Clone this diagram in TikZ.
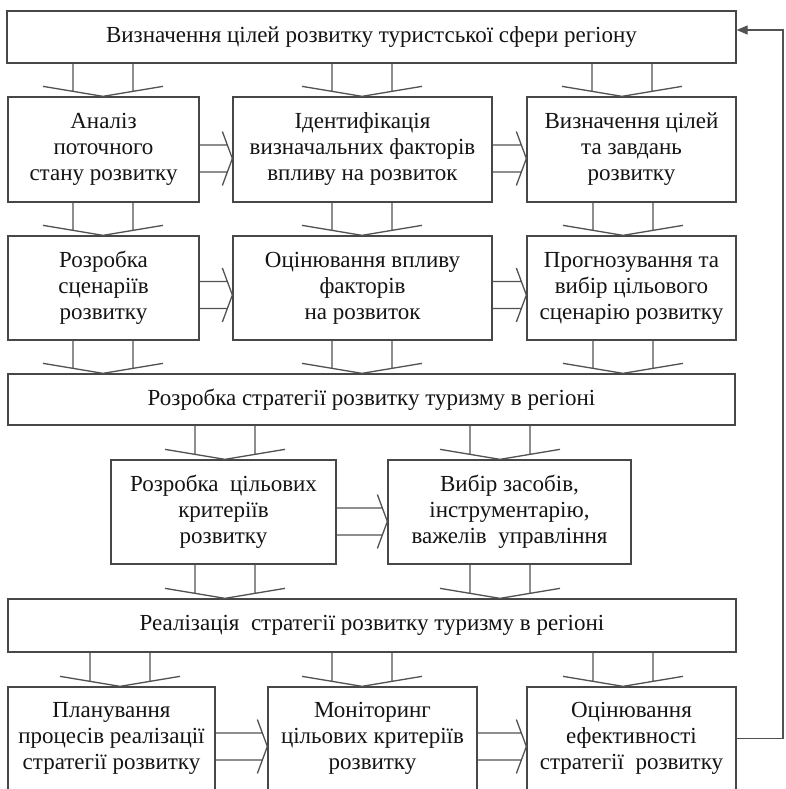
\documentclass[tikz,border=0pt]{standalone}
\usepackage{fontspec}
\setmainfont{Liberation Serif}
\usetikzlibrary{calc,arrows.meta}
\newcommand\varr[3]{%
  \draw[blk] let \p1=(#1.south), \p2=(#2.north) in
    (#3pt-30pt,\y1) -- (#3pt-30pt,\y2+5pt)
    (#3pt+30pt,\y1) -- (#3pt+30pt,\y2+5pt)
    (#3pt-60pt,\y2+10pt) -- (#3pt,\y2) -- (#3pt+60pt,\y2+10pt);}
\newcommand\harr[3]{%
  \draw[blk] let \p1=(#1.east), \p2=(#2.west) in
    (\x1,-#3pt+13.5pt) -- (\x2-5pt,-#3pt+13.5pt)
    (\x1,-#3pt-13.5pt) -- (\x2-5pt,-#3pt-13.5pt)
    (\x2-10pt,-#3pt+27pt) -- (\x2,-#3pt) -- (\x2-10pt,-#3pt-27pt);}
\begin{document}
\begin{tikzpicture}[x=1pt,y=-1pt,
  box/.style={draw=black!72, line width=1.3pt, fill=white, inner sep=0pt,
    align=center, text=black!92, font=\fontsize{23}{26}\selectfont},
  blk/.style={draw=black!68, line width=1.3pt, line join=miter},
]
\useasboundingbox (0,0) rectangle (785,789);
\clip (0,0) rectangle (785,789);
\node[box, minimum width=729pt, minimum height=52pt] (top) at (371.5,37)
  {Визначення цілей розвитку туристської сфери регіону};
\node[box, minimum width=191pt, minimum height=105pt] (a1) at (103.5,149.5)
  {Аналіз\\ поточного\\ стану розвитку};
\node[box, minimum width=259pt, minimum height=105pt] (a2) at (362.5,149.5)
  {Ідентифікація\\ визначальних факторів\\ впливу на розвиток};
\node[box, minimum width=209pt, minimum height=105pt] (a3) at (631.5,149.5)
  {Визначення цілей\\ та завдань\\ розвитку};
\node[box, minimum width=191pt, minimum height=104pt] (b1) at (103.5,288)
  {Розробка\\ сценаріїв\\ розвитку};
\node[box, minimum width=259pt, minimum height=104pt] (b2) at (362.5,288)
  {Оцінювання впливу\\ факторів\\ на розвиток};
\node[box, minimum width=209pt, minimum height=104pt] (b3) at (631.5,288)
  {Прогнозування та\\ вибір цільового\\ сценарію розвитку};
\node[box, minimum width=727pt, minimum height=51pt] (mid) at (371.5,399.5)
  {Розробка стратегії розвитку туризму в регіоні};
\node[box, minimum width=225pt, minimum height=104pt] (c1) at (223.5,512)
  {Розробка~ цільових\\ критеріїв\\ розвитку};
\node[box, minimum width=243pt, minimum height=104pt] (c2) at (509.5,512)
  {Вибір засобів,\\ інструментарію,\\ важелів~ управління};
\node[box, minimum width=728pt, minimum height=53pt] (impl) at (372,625.5)
  {Реалізація~ стратегії розвитку туризму в регіоні};
\node[box, minimum width=207pt, minimum height=103pt] (d1) at (111.5,738.5)
  {Планування\\ процесів реалізації\\ стратегії розвитку};
\node[box, minimum width=209pt, minimum height=103pt] (d2) at (372.5,738.5)
  {Моніторинг\\ цільових критеріїв\\ розвитку};
\node[box, minimum width=209pt, minimum height=103pt] (d3) at (631.5,738.5)
  {Оцінювання\\ ефективності\\ стратегії~ розвитку};
% vertical block arrows
\varr{top}{a1}{103} \varr{top}{a2}{362} \varr{top}{a3}{622}
\varr{a1}{b1}{103} \varr{a2}{b2}{362} \varr{a3}{b3}{623}
\varr{b1}{mid}{103} \varr{b2}{mid}{362} \varr{b3}{mid}{623}
\varr{mid}{c1}{225} \varr{mid}{c2}{500}
\varr{c1}{impl}{225} \varr{c2}{impl}{500}
\varr{impl}{d1}{120} \varr{impl}{d2}{362} \varr{impl}{d3}{623}
% horizontal block arrows
\harr{a1}{a2}{158.5} \harr{a2}{a3}{158.5}
\harr{b1}{b2}{295} \harr{b2}{b3}{295}
\harr{c1}{c2}{521.5}
\harr{d1}{d2}{746.5} \harr{d2}{d3}{746.5}
% feedback
\coordinate (fb) at (783,30);
\draw[blk, -{Triangle[length=11pt,width=9pt]}] (d3.east) -| (fb) -- (fb -| top.east);
\end{tikzpicture}
\end{document}
